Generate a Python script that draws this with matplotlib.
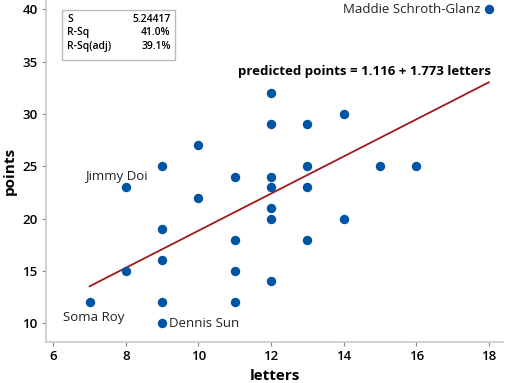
import numpy as np
import matplotlib
matplotlib.use('Agg')
import matplotlib.pyplot as plt

plt.rcParams['font.family'] = ['Open Sans', 'DejaVu Sans']

# letters vs points
letters = [18, 12, 12, 13, 14, 10, 9, 13, 15, 16, 8, 12, 11, 12, 13,
           10, 12, 12, 14, 9, 11, 13, 9, 8, 11, 12, 7, 9, 11, 9]
points = [40, 32, 29, 29, 30, 27, 25, 25, 25, 25, 23, 24, 24, 23, 23,
          22, 21, 20, 20, 19, 18, 18, 16, 15, 15, 14, 12, 12, 12, 10]

intercept = 1.116
slope = 1.773

labels = {'Maddie Schroth-Glanz': (18, 40), 'Jimmy Doi': (8, 23),
          'Soma Roy': (7, 12), 'Dennis Sun': (9, 10)}

stats_names = ['S', 'R-Sq', 'R-Sq(adj)']
stats_vals = ['5.24417', '41.0%', '39.1%']

dot_color = '#0054A6'
line_color = '#A0191E'
spine_color = '#C8C8C8'


def main():
    fig = plt.figure(figsize=(5.12, 3.83), dpi=100)
    ax = fig.add_axes([0.09, 0.107, 0.893, 0.893])

    ax.scatter(letters, points, s=46, color=dot_color, zorder=3, linewidths=0)

    xx = np.array([min(letters), max(letters)])
    ax.plot(xx, intercept + slope * xx, color=line_color, lw=1.3, zorder=2)

    ax.set_xlim(5.8, 18.4)
    ax.set_ylim(8.2, 40.9)
    ax.set_xticks(range(6, 19, 2))
    ax.set_yticks(range(10, 41, 5))

    for side in ['top', 'right']:
        ax.spines[side].set_visible(False)
    for side in ['left', 'bottom']:
        ax.spines[side].set_color(spine_color)
        ax.spines[side].set_linewidth(1.2)
    ax.tick_params(color='#888888', length=3, width=0.8, labelsize=9.5, pad=3)
    for lab in ax.get_xticklabels() + ax.get_yticklabels():
        lab.set_fontweight('semibold')

    ax.set_xlabel('letters', fontsize=11, fontweight='bold', labelpad=4)
    ax.set_ylabel('points', fontsize=11, fontweight='bold', labelpad=4)

    # point labels
    ax.annotate('Maddie Schroth-Glanz', labels['Maddie Schroth-Glanz'], xytext=(-6, 0),
                textcoords='offset points', ha='right', va='center', fontsize=9.5, color='#222222')
    ax.annotate('Jimmy Doi', labels['Jimmy Doi'], xytext=(-7, 8),
                textcoords='offset points', ha='center', va='center', fontsize=9.5, color='#222222')
    ax.annotate('Soma Roy', labels['Soma Roy'], xytext=(3, -11),
                textcoords='offset points', ha='center', va='center', fontsize=9.5, color='#222222')
    ax.annotate('Dennis Sun', labels['Dennis Sun'], xytext=(5, 0),
                textcoords='offset points', ha='left', va='center', fontsize=9.5, color='#222222')

    ax.text(0.42, 0.79, 'predicted points = %.3f + %.3f letters' % (intercept, slope),
            transform=ax.transAxes, fontsize=9.5, fontweight='bold', ha='left', va='center')

    # stats box
    box = plt.Rectangle((0.121, 0.843), 0.221, 0.131, transform=fig.transFigure,
                        fill=False, edgecolor='#BBBBBB', lw=1)
    fig.patches.append(box)
    for i, (n, v) in enumerate(zip(stats_names, stats_vals)):
        yy = 0.950 - i * 0.036
        fig.text(0.131, yy, n, fontsize=7.5, fontweight='semibold', ha='left', va='center')
        fig.text(0.333, yy, v, fontsize=7.5, fontweight='semibold', ha='right', va='center')

    fig.savefig('out.png', dpi=100)


if __name__ == '__main__':
    main()
